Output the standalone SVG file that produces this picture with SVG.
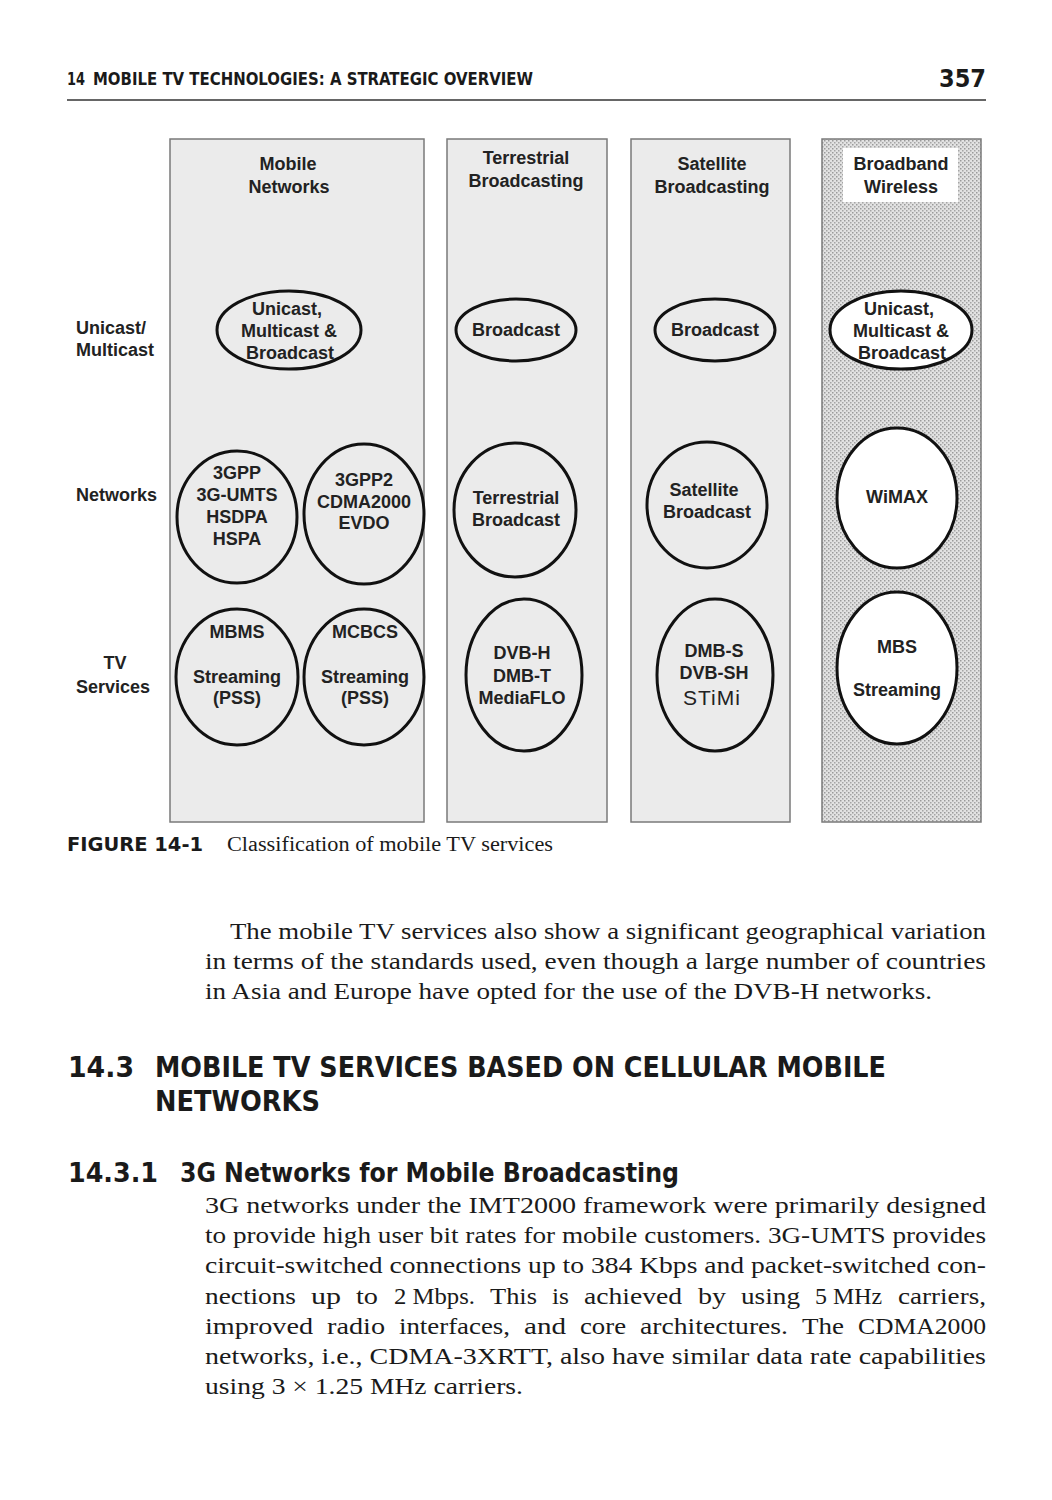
<svg xmlns="http://www.w3.org/2000/svg" width="1052" height="1500" viewBox="0 0 1052 1500">
<style>
.hdr{font-family:"Liberation Sans Narrow","DejaVu Sans Condensed","Liberation Sans",sans-serif;font-weight:bold;fill:#1a1a1a}
.lbl{font-family:"Liberation Sans",Arial,sans-serif;font-weight:bold;font-size:18px;fill:#222;text-anchor:middle}
.row{font-family:"Liberation Sans",Arial,sans-serif;font-weight:bold;font-size:18px;fill:#222}
.col{fill:#ebebeb;stroke:#7a7a7a;stroke-width:1.5}
.ell{fill:none;stroke:#111;stroke-width:3}
.ellw{fill:#fff;stroke:#111;stroke-width:3}
.ser{font-family:"Liberation Serif","Tinos","Times New Roman","Nimbus Roman","DejaVu Serif",serif;font-size:23px;fill:#1a1a1a}
</style>
<defs>
<pattern id="stip" width="4" height="4" patternUnits="userSpaceOnUse">
<rect width="4" height="4" fill="#e2e2e2"/>
<rect x="0" y="0" width="1.5" height="1.5" fill="#9a9a9a"/>
<rect x="2" y="2" width="1.5" height="1.5" fill="#a5a5a5"/>
</pattern>
</defs>
<rect width="1052" height="1500" fill="#fff"/>

<g id="page-header">
<text class="hdr" x="67" y="85" font-size="18" textLength="18" lengthAdjust="spacingAndGlyphs">14</text>
<text class="hdr" x="93" y="85" font-size="18" textLength="440" lengthAdjust="spacingAndGlyphs">MOBILE TV TECHNOLOGIES: A STRATEGIC OVERVIEW</text>
<text class="hdr" x="986" y="87" font-size="25" text-anchor="end">357</text>
<line x1="67" y1="100" x2="986" y2="100" stroke="#333" stroke-width="1.5"/>
</g>

<g id="col-mobile">
<rect class="col" x="170" y="139" width="254" height="683"/>
<text class="lbl" x="288" y="170">Mobile</text>
<text class="lbl" x="289" y="193">Networks</text>
</g>
<g id="col-terrestrial">
<rect class="col" x="447" y="139" width="160" height="683"/>
<text class="lbl" x="526" y="164">Terrestrial</text>
<text class="lbl" x="526" y="187">Broadcasting</text>
</g>
<g id="col-satellite">
<rect class="col" x="631" y="139" width="159" height="683"/>
<text class="lbl" x="712" y="170">Satellite</text>
<text class="lbl" x="712" y="193">Broadcasting</text>
</g>
<g id="col-broadband">
<rect x="822" y="139" width="159" height="683" fill="url(#stip)" stroke="#7a7a7a" stroke-width="1.5"/>
<rect x="843" y="148" width="115" height="54" fill="#fff"/>
<text class="lbl" x="901" y="170">Broadband</text>
<text class="lbl" x="901" y="193">Wireless</text>
</g>

<g id="row-unicast">
<text class="row" x="76" y="334">Unicast/</text>
<text class="row" x="76" y="356">Multicast</text>
</g>
<g id="row-networks">
<text class="row" x="76" y="501">Networks</text>
</g>
<g id="row-tv">
<text class="row" x="115" y="669" text-anchor="middle">TV</text>
<text class="row" x="76" y="693">Services</text>
</g>

<g id="n-mobile-cast">
<ellipse class="ell" cx="289" cy="330" rx="72" ry="39"/>
<text class="lbl" x="287" y="315">Unicast,</text>
<text class="lbl" x="289" y="337">Multicast &amp;</text>
<text class="lbl" x="290" y="359">Broadcast</text>
</g>
<g id="n-terr-cast">
<ellipse class="ell" cx="516" cy="330" rx="60" ry="31"/>
<text class="lbl" x="516" y="336">Broadcast</text>
</g>
<g id="n-sat-cast">
<ellipse class="ell" cx="715" cy="330" rx="60" ry="31"/>
<text class="lbl" x="715" y="336">Broadcast</text>
</g>
<g id="n-bb-cast">
<ellipse class="ellw" cx="901" cy="330" rx="71" ry="39"/>
<text class="lbl" x="899" y="315">Unicast,</text>
<text class="lbl" x="901" y="337">Multicast &amp;</text>
<text class="lbl" x="902" y="359">Broadcast</text>
</g>

<g id="n-3gpp">
<ellipse class="ell" cx="237" cy="517" rx="60" ry="66"/>
<text class="lbl" x="237" y="479">3GPP</text>
<text class="lbl" x="237" y="501">3G-UMTS</text>
<text class="lbl" x="237" y="523">HSDPA</text>
<text class="lbl" x="237" y="545">HSPA</text>
</g>
<g id="n-3gpp2">
<ellipse class="ell" cx="364" cy="514" rx="60" ry="70"/>
<text class="lbl" x="364" y="486">3GPP2</text>
<text class="lbl" x="364" y="508">CDMA2000</text>
<text class="lbl" x="364" y="529">EVDO</text>
</g>
<g id="n-terr-net">
<ellipse class="ell" cx="515" cy="510" rx="61" ry="67"/>
<text class="lbl" x="516" y="504">Terrestrial</text>
<text class="lbl" x="516" y="526">Broadcast</text>
</g>
<g id="n-sat-net">
<ellipse class="ell" cx="707" cy="505" rx="60" ry="63"/>
<text class="lbl" x="704" y="496">Satellite</text>
<text class="lbl" x="707" y="518">Broadcast</text>
</g>
<g id="n-wimax">
<ellipse class="ellw" cx="897" cy="498" rx="60" ry="70"/>
<text class="lbl" x="897" y="503">WiMAX</text>
</g>

<g id="n-mbms">
<ellipse class="ell" cx="237" cy="677" rx="61" ry="68"/>
<text class="lbl" x="237" y="638">MBMS</text>
<text class="lbl" x="237" y="683">Streaming</text>
<text class="lbl" x="237" y="704">(PSS)</text>
</g>
<g id="n-mcbcs">
<ellipse class="ell" cx="364" cy="677" rx="60" ry="68"/>
<text class="lbl" x="365" y="638">MCBCS</text>
<text class="lbl" x="365" y="683">Streaming</text>
<text class="lbl" x="365" y="704">(PSS)</text>
</g>
<g id="n-dvbh">
<ellipse class="ell" cx="524" cy="675" rx="58" ry="76"/>
<text class="lbl" x="522" y="659">DVB-H</text>
<text class="lbl" x="522" y="682">DMB-T</text>
<text class="lbl" x="522" y="704">MediaFLO</text>
</g>
<g id="n-dmbs">
<ellipse class="ell" cx="715" cy="675" rx="58" ry="76"/>
<text class="lbl" x="714" y="657">DMB-S</text>
<text class="lbl" x="714" y="679">DVB-SH</text>
<text x="712" y="705" font-family="Liberation Sans, Arial, sans-serif" font-size="21" letter-spacing="1" fill="#222" text-anchor="middle">STiMi</text>
</g>
<g id="n-mbs">
<ellipse class="ellw" cx="897" cy="668" rx="60" ry="76"/>
<text class="lbl" x="897" y="653">MBS</text>
<text class="lbl" x="897" y="696">Streaming</text>
</g>

<g id="connectors"></g>

<g id="caption">
<text class="hdr" x="67" y="851" font-size="20" textLength="136" lengthAdjust="spacingAndGlyphs">FIGURE 14-1</text>
<text class="ser" x="227" y="851" style="font-size:20px" textLength="326" lengthAdjust="spacingAndGlyphs">Classification of mobile TV services</text>
</g>

<g id="para1" class="ser">
<text x="230" y="939" textLength="756" lengthAdjust="spacingAndGlyphs">The mobile TV services also show a significant geographical variation</text>
<text x="205" y="969" textLength="781" lengthAdjust="spacingAndGlyphs">in terms of the standards used, even though a large number of countries</text>
<text x="205" y="999" textLength="727" lengthAdjust="spacingAndGlyphs">in Asia and Europe have opted for the use of the DVB-H networks.</text>
</g>

<g id="headings">
<text class="hdr" x="68" y="1077" font-size="28" textLength="66" lengthAdjust="spacingAndGlyphs">14.3</text>
<text class="hdr" x="155" y="1077" font-size="28" textLength="731" lengthAdjust="spacingAndGlyphs">MOBILE TV SERVICES BASED ON CELLULAR MOBILE</text>
<text class="hdr" x="155" y="1111" font-size="28" textLength="165" lengthAdjust="spacingAndGlyphs">NETWORKS</text>
<text class="hdr" x="68" y="1182" font-size="27" textLength="90" lengthAdjust="spacingAndGlyphs">14.3.1</text>
<text class="hdr" x="180" y="1182" font-size="27" textLength="499" lengthAdjust="spacingAndGlyphs">3G Networks for Mobile Broadcasting</text>
</g>

<g id="para2" class="ser">
<text x="205" y="1213" textLength="781" lengthAdjust="spacingAndGlyphs">3G networks under the IMT2000 framework were primarily designed</text>
<text x="205" y="1243" textLength="781" lengthAdjust="spacingAndGlyphs">to provide high user bit rates for mobile customers. 3G-UMTS provides</text>
<text x="205" y="1273" textLength="781" lengthAdjust="spacingAndGlyphs">circuit-switched connections up to 384 Kbps and packet-switched con-</text>
<text y="1304"><tspan x="205" textLength="91" lengthAdjust="spacingAndGlyphs">nections</tspan><tspan x="311" textLength="30" lengthAdjust="spacingAndGlyphs">up</tspan><tspan x="356" textLength="22" lengthAdjust="spacingAndGlyphs">to</tspan><tspan x="394" textLength="81" lengthAdjust="spacingAndGlyphs">2 Mbps.</tspan><tspan x="490" textLength="47" lengthAdjust="spacingAndGlyphs">This</tspan><tspan x="552" textLength="17" lengthAdjust="spacingAndGlyphs">is</tspan><tspan x="584" textLength="98" lengthAdjust="spacingAndGlyphs">achieved</tspan><tspan x="698" textLength="28" lengthAdjust="spacingAndGlyphs">by</tspan><tspan x="741" textLength="59" lengthAdjust="spacingAndGlyphs">using</tspan><tspan x="815" textLength="67" lengthAdjust="spacingAndGlyphs">5 MHz</tspan><tspan x="898" textLength="88" lengthAdjust="spacingAndGlyphs">carriers,</tspan></text>
<text y="1334"><tspan x="205" textLength="108" lengthAdjust="spacingAndGlyphs">improved</tspan><tspan x="327" textLength="58" lengthAdjust="spacingAndGlyphs">radio</tspan><tspan x="399" textLength="111" lengthAdjust="spacingAndGlyphs">interfaces,</tspan><tspan x="524" textLength="42" lengthAdjust="spacingAndGlyphs">and</tspan><tspan x="580" textLength="46" lengthAdjust="spacingAndGlyphs">core</tspan><tspan x="640" textLength="148" lengthAdjust="spacingAndGlyphs">architectures.</tspan><tspan x="802" textLength="42" lengthAdjust="spacingAndGlyphs">The</tspan><tspan x="858" textLength="128" lengthAdjust="spacingAndGlyphs">CDMA2000</tspan></text>
<text x="205" y="1364" textLength="781" lengthAdjust="spacingAndGlyphs">networks, i.e., CDMA-3XRTT, also have similar data rate capabilities</text>
<text x="205" y="1394" textLength="318" lengthAdjust="spacingAndGlyphs">using 3 × 1.25 MHz carriers.</text>
</g>
</svg>
